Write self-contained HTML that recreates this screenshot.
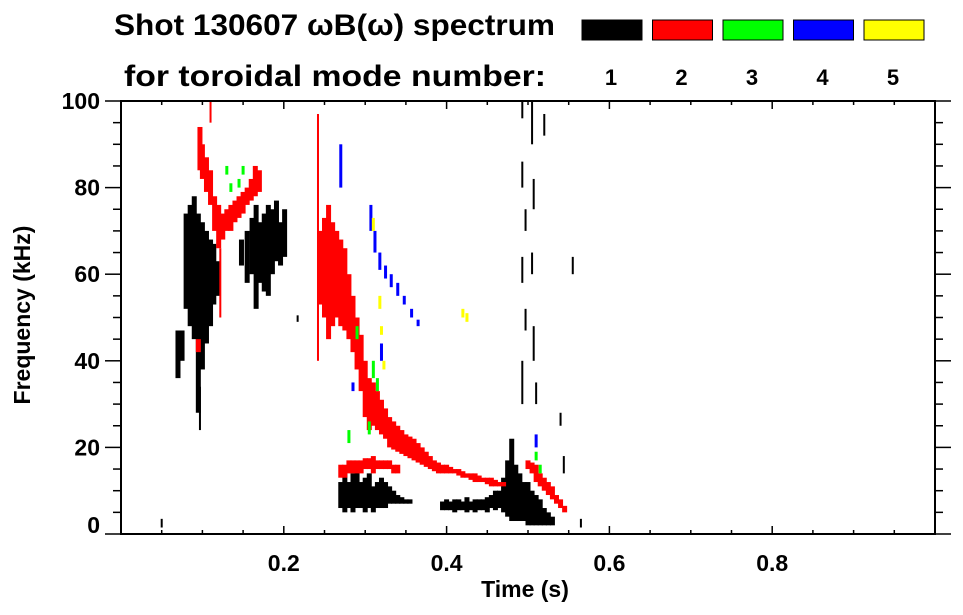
<!DOCTYPE html>
<html><head><meta charset="utf-8"><style>
body{margin:0;background:#fff;}
svg{display:block;font-family:"Liberation Sans",Arial,sans-serif;font-weight:bold;}
</style></head><body>
<svg id="chart" width="963" height="615" viewBox="0 0 963 615">
<text x="114" y="35" font-size="30" textLength="441" lengthAdjust="spacingAndGlyphs">Shot 130607 ωB(ω) spectrum</text>
<text x="124" y="86" font-size="30" textLength="422" lengthAdjust="spacingAndGlyphs">for toroidal mode number:</text>
<g id="legend"></g>
<g id="marks"></g>
<g id="axes"></g>
<text x="525" y="597" font-size="23" text-anchor="middle">Time (s)</text>
<text transform="translate(30,315) rotate(-90)" font-size="23" text-anchor="middle">Frequency (kHz)</text>
</svg>
<script>
const modeLabels=["1","2","3","4","5"];
const modeColors=["#000000","#ff0000","#00ff00","#0000ff","#ffff00"];
const xTicks=[0.2,0.4,0.6,0.8];
const yTicks=[0,20,40,60,80,100];
// bands: [time, fLow, fHigh]
const mode1Bands=[
[.070,36,47],[.075,40,47],[.080,52,74],[.085,48,76],[.090,45,78],[.095,28,74],[.100,38,72],[.105,44,70],[.110,48,68],[.114,53,67],[.119,55,63],
[.148,62,68],[.155,58,70],[.161,60,73],[.166,52,76],[.171,58,72],[.176,56,74],[.181,55,76],[.186,60,75],[.191,63,77],[.196,62,72],[.201,64,75],
[.270,6,12],[.275,5,14],[.280,6,12],[.285,5,14],[.290,6,15],[.295,6,12],[.300,5,13],[.305,6,14],[.310,5,11],[.315,6,12],[.320,6,13],[.325,6,12],[.330,7,11],[.335,7,10],[.340,7,9],[.345,7,8.5],[.350,7,8],[.355,7,8],
[.395,5.5,7.5],[.400,5.5,8],[.405,5.5,7.5],[.410,5,8],[.415,5.5,8],[.420,5.5,7.5],[.425,5,8.5],[.430,5.5,7.5],[.435,5,8],[.440,5.5,8],[.445,5.5,8],[.450,5,8.5],[.455,6,9],[.460,5.5,10],
[.465,6,10],[.470,5,13],[.475,4,17],[.480,3,22],[.485,3,16],[.490,3,14],[.495,3,12],[.500,2,12],[.505,2,10],[.510,2,9],[.515,2,8],[.520,2,6],[.525,2,5],[.530,2,4]];
const mode1Thin=[[.097,24,34],
[.493,96,100],[.493,80,86],[.497,70,75],[.493,58,64],[.497,47,52],[.493,30,40],[.505,90,100],[.507,75,82],[.505,60,65],[.507,40,48],[.510,30,35],[.520,92,97],[.540,25,28],[.544,14,18],[.217,49,50.5],[.050,1.5,3.5],[.565,1.5,3.5],[.555,60,64]];
const mode2Bands=[
[.095,42,45],[.097,84,94],[.100,82,90],[.105,79,87],[.110,76,84],[.115,70,78],[.120,66,76],[.125,68,74],[.130,70,75],[.135,70,76],[.140,72,77],[.145,73,78],[.150,74,79],[.155,76,80],[.160,77,82],[.165,78,85],[.170,79,84],
[.245,53,70],[.250,50,73],[.255,45,76],[.260,48,72],[.265,50,70],[.270,48,68],[.275,47,66],[.280,45,60],[.285,42,55],[.290,38,50],[.295,33,46],[.300,27,40],[.305,24,36],[.310,25,35],[.315,24,33],[.320,23,31],[.325,22,29],[.330,20,27],[.335,19.5,26],[.340,19,25],[.345,18.5,24],[.350,18,23],[.355,17.5,22.5],[.360,17,22],[.365,16.5,21],[.370,16,20],[.375,15.5,19],[.380,15,18],[.385,14.5,17],[.390,14,16.5],[.395,14,16],[.400,14,16],[.405,14,15.5],[.410,14,15],[.415,13.5,15],[.420,13,14.5],[.425,13,14],[.430,12.5,14],[.435,12,14],[.440,12,13.5],[.445,12,13],[.450,11.5,13],[.455,11,13],[.460,11,12.5],[.465,11,12],[.470,11,12],
[.270,13,16],[.275,13,16],[.280,14,17],[.285,14,17],[.290,14,17],[.295,14,17],[.300,15,17.5],[.305,15,17.5],[.310,14,18],[.315,15,17],[.320,15,17],[.325,15,17],[.330,15,17],[.335,14,16],[.340,14,16],
[.500,15,17],[.505,14,16.5],[.510,12,16],[.515,11,14],[.520,10,13],[.525,9,12],[.530,8,11],[.535,7,9],[.540,6,8],[.545,5,6.5]];
const mode2Thin=[[.242,40,97],[.122,50,66],[.110,95,100]];
const mode3Bands=[[.130,83,85],[.135,79,81],[.145,80,82],[.150,83,85],[.290,45,48],[.310,36,40],[.315,33,36],[.305,23,26],[.280,21,24],[.510,17,19],[.515,14,16]];
const mode4Bands=[[.270,80,90],[.307,70,76],[.312,65,70],[.318,61,65],[.325,59,62],[.332,57,60],[.340,55,58],[.348,53,55],[.357,50,52],[.365,48,49.5],[.285,33,35],[.320,40,44],[.510,20,23]];
const mode5Bands=[[.310,70,73],[.318,52,55],[.320,46,48],[.420,50,52],[.425,49,51],[.323,38,40]];

const X0=121,X1=935,Y0=534,Y1=101;
const xs=t=>X0+t*(X1-X0);
const ys=f=>Y0-(f/100)*(Y0-Y1);
const NS="http://www.w3.org/2000/svg";
function mk(tag,attrs,parent){const e=document.createElementNS(NS,tag);for(const k in attrs)e.setAttribute(k,attrs[k]);parent.appendChild(e);return e;}

const legend=document.getElementById('legend');
modeLabels.forEach((m,i)=>{
  const x=582+i*70.5;
  const r=mk('rect',{x:x,y:20,width:60,height:20,fill:modeColors[i],stroke:'#000','stroke-width':1},legend);
  
  
  const t=mk('text',{x:x+29,y:85,'font-size':22,'text-anchor':'middle'},legend);
  t.textContent=m;
  
  
});

const marks=document.getElementById('marks');
function drawBands(bands,mi,w){
  bands.forEach(b=>{
    const x=xs(b[0]);const y=ys(b[2]);const h=Math.max(1.5,ys(b[1])-ys(b[2]));
    const r=mk('rect',{x:x-w/2,y:y,width:w,height:h,fill:modeColors[mi]},marks);
    
    
  });
}
drawBands(mode1Bands,0,5);
drawBands(mode1Thin,0,2);
drawBands(mode2Bands,1,5);
drawBands(mode2Thin,1,2);
drawBands(mode3Bands,2,3);
drawBands(mode4Bands,3,3);
drawBands(mode5Bands,4,3);

const axes=document.getElementById('axes');
const frame=mk('rect',{x:X0,y:Y1,width:X1-X0,height:Y0-Y1,fill:'none',stroke:'#000','stroke-width':2},axes);


for(let i=0;i<=20;i++){
  const t=i*0.05;const x=xs(t);const major=(i%4===0);
  mk('line',{x1:x,y1:Y0,x2:x,y2:Y0-(major?8:4),stroke:'#000','stroke-width':1.5},axes);
  mk('line',{x1:x,y1:Y1,x2:x,y2:Y1+(major?8:4),stroke:'#000','stroke-width':1.5},axes);
}
for(let i=0;i<=20;i++){
  const f=i*5;const y=ys(f);const major=(i%4===0);
  mk('line',{x1:X0,y1:y,x2:X0-(major?16:8),y2:y,stroke:'#000','stroke-width':1.5},axes);
  mk('line',{x1:X1,y1:y,x2:X1+(major?16:8),y2:y,stroke:'#000','stroke-width':1.5},axes);
}
xTicks.forEach(v=>{
  const t=mk('text',{x:xs(v),y:571,'font-size':23,'text-anchor':'middle'},axes);
  t.textContent=v.toFixed(1);
  
  
});
yTicks.forEach(v=>{
  const t=mk('text',{x:100,y:Math.min(ys(v)+8,533),'font-size':23,'text-anchor':'end'},axes);
  t.textContent=String(v);
  
  
});
</script>
</body></html>
